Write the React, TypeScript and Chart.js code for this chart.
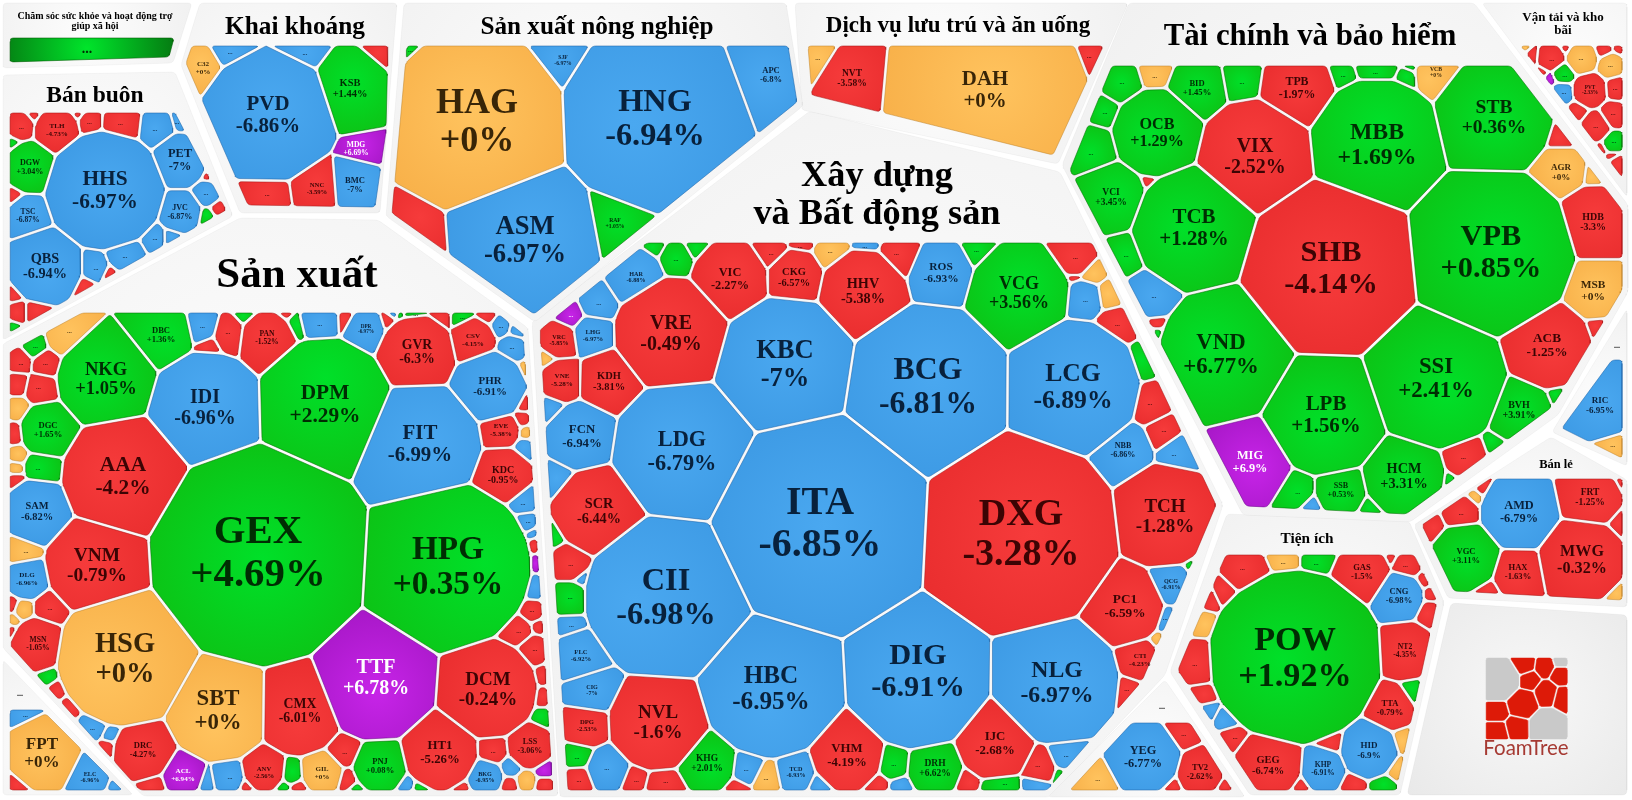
import React, { useEffect, useRef } from "react";
import { Chart, registerables } from "chart.js";
Chart.register(...registerables);

type P = [number, number];
type Site = number[];

// ---- values -------------------------------------------------------------
const healthNames: string[] = [];
const healthChanges: number[] = [];
const healthTones = "G";

const miningNames = ["PVD", "KSB", "C32", "MDG", "NNC", "BMC"];
const miningChanges = [-6.86, 1.44, 0, 6.69, -3.59, -7];
const miningTones = "bgoprb" + "bbrr";

const wholesaleNames = ["HHS", "PET", "TLH", "DGW", "TSC", "QBS", "JVC"];
const wholesaleChanges = [-6.97, -7, -4.73, 3.04, -6.87, -6.94, -6.87];
const wholesaleTones = "bbrgbbb" + "rrrrrbbgrbrgrbbbbrrrrrg";

const farmNames = ["HAG", "HNG", "ASM", "SJF", "APC", "RAF"];
const farmChanges = [0, -6.94, -6.97, -6.97, -6.8, 1.05];
const farmTones = "obbbbg" + "rg";

const lodgingNames = ["DAH", "NVT"];
const lodgingChanges = [0, -3.58];
const lodgingTones = "or" + "or";

const financeNames = ["SHB", "VPB", "MBB", "STB", "VIX", "TPB", "OCB", "TCB", "VND", "SSI", "LPB", "MIG", "HCM", "BVH", "ACB", "MSB", "HDB", "AGR", "VCB", "BID", "VCI", "SSB"];
const financeChanges = [-4.14, 0.85, 1.69, 0.36, -2.52, -1.97, 1.29, 1.28, 6.77, 2.41, 1.56, 6.9, 3.31, 3.91, -1.25, 0, -3.3, 0, 0, 1.45, 3.45, 0.53];
const financeTones = "rgggrrgggggpggrorooggg" + "orggggg" + "ogggr" + "gbrg" + "gbg" + "rggg" + "r";

const transportNames = ["PVT"];
const transportChanges = [-2.33];
const transportTones = "r" + "rooorrrrgbprrrrgrrrr";

const otherNames = ["RIC"];
const otherChanges = [-6.95];
const otherTones = "b" + "o";

const retailNames = ["AMD", "FRT", "MWG", "HAX", "VGC"];
const retailChanges = [-6.79, -1.25, -0.32, -1.63, 3.11];
const retailTones = "brrrg" + "rrorrror";

const utilityNames = ["POW", "GAS", "CNG", "NT2", "TTA", "HID", "KHP", "GEG"];
const utilityChanges = [1.92, -1.5, -6.98, -4.35, -0.79, -6.9, -6.91, -6.74];
const utilityTones = "grbrrbbr" + "rogrrrrrgoorrgrbrrrrobr";

const yegNames = ["YEG", "TV2"];
const yegChanges = [-6.77, -2.62];
const yegTones = "br" + "orrr";

const buildNames = ["ITA", "DXG", "BCG", "LCG", "KBC", "LDG", "CII", "HBC", "DIG", "NLG", "VRE", "TCH", "SCR", "FCN", "KDH", "VNE", "VRC", "LHG", "HAR", "VIC", "CKG", "HHV", "ROS", "VCG", "NBB", "QCG", "PC1", "CTI", "IJC", "DRH", "VHM", "TCD", "KHG", "NVL", "DPG", "CIG", "FLC"];
const buildChanges = [-6.85, -3.28, -6.81, -6.89, -7, -6.79, -6.98, -6.95, -6.91, -6.97, -0.49, -1.28, -6.44, -6.94, -3.81, -5.28, -5.85, -6.97, -6.88, -2.27, -6.57, -5.38, -6.93, 3.56, -6.86, -6.91, -6.59, -4.23, -2.68, 6.62, -4.19, -6.93, 2.01, -1.6, -2.53, -7, -6.92];
const buildTones = "brbbbbbbbbrrrbrrrbbrrrbgbbrrrgrbgrrbb" + "pborbrgrrggg" + "rroobrgrrbgbo" + "rrbgbgrgrbbobrrrbrgbgrbgbbo";

const makerNames = ["GEX", "HPG", "TTF", "HSG", "SBT", "CMX", "DCM", "HT1", "LSS", "BKG", "KDC", "EVE", "PHR", "CSV", "GVR", "FIT", "DPM", "IDI", "NKG", "AAA", "VNM", "DBC", "PAN", "DPR", "DGC", "SAM", "DLG", "MSN", "DRC", "ACL", "ANV", "GIL", "PNJ"];
const makerChanges = [4.69, 0.35, 6.78, 0, 0, -6.01, -0.24, -5.26, -3.06, -6.95, -0.95, -5.38, -6.91, -4.15, -6.3, -6.99, 2.29, -6.96, 1.05, -4.2, -0.79, 1.36, -1.52, -6.97, 1.65, -6.82, -6.96, -1.05, -4.27, 6.94, -2.56, 0, 0.08];
const makerTones = "ggpoorrrrbrrbrrbgbgrrgrbgbbrrprog" + "borrpgrrrrrrbprbbbborrobbbrgrgr" + "brgrbrgrrgb" + "ogrrrr" + "oroorg" + "ororor" + "grrbbr" + "rbbrgg" + "rrrggb" + "r";

const fptNames = ["FPT", "ELC"];
const fptChanges = [0, -6.96];
const fptTones = "ob" + "brb";

// ---- layout: anchor of each tile [x, y, radius, label size, label x, label y] on the data scale
const healthSites: Site[] = [[92, 50, 50]];
const miningSites: Site[] = [[268, 115, 65, 22], [350, 88, 36, 11], [203, 68, 17, 7.5], [362, 156, -15, 8, 356, 149], [317, 188, 17, 7], [355, 185, 19, 9], [233, 50, 18], [300, 50, 20], [383, 49, 6], [267, 195, 12]];
const wholesaleSites: Site[] = [[105, 190, 59, 22.5], [180, 160, 27, 13], [57, 130, 22, 7.5], [30, 167, 25, 8.5], [28, 216, 20, 8], [45, 266, 37, 15], [180, 212, 20, 8.5],
  [20, 126, 13], [33, 115, 3], [77, 115, 3], [89, 123, 10], [122, 125, 18], [157, 129, 17], [182, 122, 9], [12, 143, 3], [13, 197, 5], [207, 193, 11], [209, 175, 3], [207, 217, 4], [219, 209, 4], [154, 237, 9], [172, 237, 5], [125, 254, 16], [94, 267, 12], [85, 286, 4], [109, 274, 1], [13, 295, 3], [17, 312, 8], [35, 312, 8], [12, 328, 2]];
const farmSites: Site[] = [[480, 125, 80, 38, 477, 121], [655, 118, 88, 34], [525, 240, 70, 28], [563, 60, -26, 6], [771, 75, 27, 9], [615, 223, 15, 6], [413, 248, 7], [405, 45, -55]];
const lodgingSites: Site[] = [[985, 90, 100, 22], [852, 78, 30, 10], [801, 46, 32], [1093, 48, 10]];
const financeSites: Site[] = [[1331, 268, 87, 32], [1491, 252, 84, 32], [1377, 144, 65, 25], [1494, 117, 58, 20.5], [1255, 156, 56, 21], [1297, 88, 36, 12.5], [1157, 133, 44, 17], [1194, 228, 61, 22], [1224, 354, 65, 24, 1221, 354], [1436, 378, 70, 24], [1326, 415, 60, 22], [1250, 462, 40, 13], [1404, 476, 40, 15], [1519, 410, 32, 10.5], [1547, 345, 44, 14], [1593, 290, 29, 12], [1593, 222, 36, 10.5], [1561, 172, 24, 9.5], [1436, 72, 20, 6], [1197, 88, 28, 9], [1111, 197, 34, 10], [1341, 490, 24, 8.5],
  [1592, 176, 6], [1561, 138, 8], [1341, 73, 9], [1377, 62, 20], [1408, 75, 5], [1411, 67, 3], [1242, 80, 18], [1155, 72, 14], [1122, 82, 18], [1104, 112, 11], [1093, 150, 22], [1150, 182, 4], [1125, 255, 16], [1150, 295, 22], [1153, 325, 3], [1153, 333, 4], [1296, 490, 15], [1311, 505, 1], [1371, 507, 6], [1466, 458, 20], [1496, 447, 7], [1451, 482, 4], [1556, 394, 6], [1596, 327, 7]];
const transportSites: Site[] = [[1590, 90, 16, 5.5], [1551, 57, 13], [1582, 58, 15], [1611, 65, 12], [1525, 48, 3], [1604, 50, 7], [1619, 48, 4], [1617, 88, 10], [1614, 115, 12], [1563, 73, 9], [1562, 93, 9], [1549, 79, 3], [1596, 127, 14], [1531, 55, 5], [1565, 48, 3], [1577, 112, 6], [1613, 142, 10], [1617, 163, 6], [1542, 73, 1.5], [1603, 147, 2], [1613, 156, 2]];
const otherSites: Site[] = [[1600, 405, 35, 9.5], [1611, 442, 12]];
const retailSites: Site[] = [[1519, 512, 38, 13], [1590, 497, 30, 10], [1582, 560, 42, 17], [1518, 572, 24, 9], [1466, 556, 33, 9], [1461, 513, 16], [1432, 527, 7], [1476, 496, 3], [1481, 490, 1.5], [1621, 480, 1], [1619, 523, 3], [1618, 596, 4], [1487, 590, 3]];
const utilitySites: Site[] = [[1295, 657, 86, 36], [1362, 572, 27, 9], [1399, 596, 24, 9], [1405, 651, 27, 8], [1390, 708, 22, 9], [1369, 750, 28, 9.5], [1323, 769, 21, 8], [1268, 765, 33, 11],
  [1245, 570, 20], [1284, 553, 14], [1318, 553, 16], [1407, 565, 13], [1392, 557, 3], [1424, 580, 5], [1431, 594, 5], [1430, 611, 8], [1412, 693, 6], [1401, 740, 7], [1395, 768, 6], [1331, 744, 8], [1354, 784, 7], [1382, 785, 7], [1299, 786, 4], [1227, 721, 6], [1232, 738, 9], [1226, 590, 6], [1197, 663, 20], [1202, 696, 8], [1200, 621, 8], [1205, 710, 5], [1205, 600, 6]];
const yegSites: Site[] = [[1143, 757, 37, 13], [1200, 772, 23, 9], [1097, 782, 20], [1182, 730, 17], [1172, 786, 7], [1224, 786, 5]];
const buildSites: Site[] = [[820, 523, 106, 42], [1021, 533, 96, 40], [928, 386, 80, 33.5], [1073, 387, 66, 27], [785, 364, 67, 28], [682, 451, 69, 23.5], [666, 597, 81, 34], [771, 688, 69, 26.5], [918, 680, 68, 32, 918, 671], [1057, 682, 61, 25], [671, 333, 56, 21], [1165, 516, 50, 20], [599, 511, 44, 15], [582, 436, 33, 13.5], [609, 381, 30, 11], [562, 380, 20, 7.5], [559, 340, 17, 6.5], [593, 335, 19, 7], [636, 277, 28, 6.5], [730, 279, 38, 13], [794, 277, 27, 11], [863, 291, 42, 15], [941, 272, 31, 12], [1019, 293, 50, 19], [1123, 450, 25, 8.5], [1171, 584, 19, 6.5], [1125, 606, 38, 14], [1140, 660, 20, 7.5], [995, 743, 37, 13.5], [935, 768, 26, 10], [847, 755, 35, 13.5], [796, 772, 18, 6.5], [707, 763, 28, 10], [658, 722, 48, 20], [587, 725, 19, 7], [592, 690, 22, 6.5], [581, 655, 25, 7],
  [570, 315, 11], [598, 302, 17], [833, 252, 15], [900, 255, 20], [866, 246, 10], [1073, 255, 20], [977, 252, 13], [770, 252, 16], [800, 238, 10], [655, 249, 8], [675, 260, 16], [696, 248, 7],
  [768, 269, 2], [1073, 270, 5], [1091, 272, 6], [1108, 295, 5], [1083, 299, 16], [1115, 325, 11], [1140, 364, 5], [1150, 404, 15], [1164, 432, 11], [1178, 452, 13], [1195, 565, 1.5], [1168, 620, 10], [1160, 643, 5],
  [1130, 690, 10], [1040, 766, 15], [1065, 755, 14], [1060, 772, 1.5], [1036, 786, 8], [1000, 788, 17], [968, 781, 8], [893, 764, 13], [877, 785, 7], [900, 787, 5], [820, 783, 8], [767, 778, 12], [747, 768, 14], [737, 788, 5], [664, 788, 18], [635, 781, 11], [607, 770, 20], [581, 780, 12], [580, 758, 9], [572, 628, 9], [571, 599, 14], [571, 561, 17], [583, 576, 1], [557, 537, 1.5], [560, 479, 8], [552, 407, 5], [547, 358, 3]];
const makerSites: Site[] = [[258, 555, 107, 43, 258, 552], [448, 566, 83, 35], [376, 681, 59, 21, 376, 677], [125, 658, 68, 30], [218, 710, 50, 24], [300, 711, 42, 14.5], [488, 689, 49, 20], [440, 752, 37, 13.5], [530, 746, 22, 8.5], [485, 777, 17, 6.5], [503, 475, 27, 10.5], [501, 430, 18, 7.5], [490, 386, 35, 11.5], [473, 340, 22, 7.5], [417, 352, 37, 14.5], [420, 444, 60, 22], [325, 404, 65, 22.5], [205, 407, 54, 21], [106, 379, 48, 19.5], [123, 476, 60, 22.5], [97, 565, 50, 20.5], [161, 335, 30, 9], [267, 338, 26, 8], [366, 329, 18, 5.5], [48, 430, 27, 9], [37, 511, 32, 11], [27, 579, 19, 7.5], [38, 644, 26, 8], [143, 750, 29, 9], [183, 775, 19, 7.5], [264, 772, 19, 7], [322, 773, 19, 7.5], [380, 766, 26, 9],
  [511, 767, 8], [526, 781, 8], [510, 785, 6], [545, 785, 7], [545, 770, 7], [543, 717, 6], [543, 697, 7], [543, 676, 6], [533, 650, 14], [517, 631, 14], [538, 626, 4], [532, 612, 9], [534, 588, 8], [536, 561, 3], [534, 546, 5], [530, 532, 5], [526, 524, 9], [523, 500, 12], [525, 448, 7], [526, 432, 4], [522, 419, 6], [523, 404, 6], [523, 370, 5], [512, 349, 13], [500, 326, 9], [517, 330, 6], [487, 317, 7], [462, 318, 9], [441, 318, 7], [413, 316, 10], [493, 750, 13],
  [320, 318, 18], [344, 317, 5], [294, 324, 6], [229, 333, 14], [202, 326, 14], [209, 344, 3], [247, 316, 5], [285, 315, 3], [388, 322, 6], [403, 317, 5], [393, 315, 1], [66, 336, 18], [34, 346, 10], [19, 360, 10], [46, 363, 11], [17, 384, 7], [41, 389, 13], [17, 409, 7], [14, 434, 7], [17, 455, 5], [15, 469, 4], [15, 480, 5], [42, 468, 16], [22, 551, 12], [50, 609, 14], [23, 610, 7], [12, 606, 3], [13, 620, 3], [11, 631, 2], [49, 677, 4], [57, 689, 5], [70, 706, 3], [93, 726, 10], [112, 735, 4], [109, 747, 2], [153, 785, 8], [207, 783, 5], [228, 779, 14], [247, 787, 4], [292, 775, 7], [283, 788, 3], [298, 788, 4], [345, 751, 13], [348, 780, 6], [356, 789, 2], [420, 788, 5], [407, 785, 5], [462, 788, 3]];
const fptSites: Site[] = [[42, 753, 35, 18], [90, 777, 18, 6.5], [21, 710, 12], [15, 785, 6], [116, 787, 3]];
const logoSites: Site[] = [[1497, 678, 24], [1521, 663, 14], [1544, 666, 9], [1561, 661, 6], [1527, 680, 11], [1561, 675, 8], [1546, 694, 11], [1522, 703, 15], [1562, 698, 9], [1497, 710, 11], [1517, 726, 10], [1497, 731, 9], [1547, 726, 17]];
const logoTones = "xRRxRRRRRRRRx";

// ---- panels ------------------------------------------------------------
type Group = { title: string[]; fs: number; tx: number; ty: number; panel: P[]; content: P[]; names: string[]; changes: number[]; tones: string; sites: Site[] };
const groups: Group[] = [
  { title: ["Chăm sóc sức khỏe và hoạt động trợ", "giúp xã hội"], fs: 10, tx: 95, ty: 16, panel: [[3, 3], [192, 3], [173, 63], [3, 68]], content: [[10, 38], [174, 38], [169, 57], [10, 62]], names: healthNames, changes: healthChanges, tones: healthTones, sites: healthSites },
  { title: ["Khai khoáng"], fs: 25.3, tx: 295, ty: 26, panel: [[200, 3], [397, 3], [380, 213], [240, 213], [181, 65]], content: [[192, 46], [388, 46], [386, 130], [375, 207], [248, 205], [186, 63]], names: miningNames, changes: miningChanges, tones: miningTones, sites: miningSites },
  { title: ["Bán buôn"], fs: 23.5, tx: 95, ty: 95, panel: [[3, 75], [175, 72], [233, 216], [3, 340]], content: [[10, 113], [175, 113], [226, 210], [10, 332]], names: wholesaleNames, changes: wholesaleChanges, tones: wholesaleTones, sites: wholesaleSites },
  { title: ["Sản xuất nông nghiệp"], fs: 25.2, tx: 597, ty: 26, panel: [[404, 3], [786, 3], [803, 106], [535, 322], [386, 216]], content: [[407, 46], [788, 46], [797, 102], [534, 314], [392, 213]], names: farmNames, changes: farmChanges, tones: farmTones, sites: farmSites },
  { title: ["Dịch vụ lưu trú và ăn uống"], fs: 23, tx: 958, ty: 25, panel: [[795, 3], [1128, 3], [1058, 164], [802, 110]], content: [[808, 46], [1103, 46], [1053, 155], [812, 95]], names: lodgingNames, changes: lodgingChanges, tones: lodgingTones, sites: lodgingSites },
  { title: ["Tài chính và bảo hiểm"], fs: 30.8, tx: 1310, ty: 35.5, panel: [[1129, 3], [1474, 3], [1628, 205], [1628, 292], [1558, 415], [1410, 522], [1243, 515], [1062, 165]], content: [[1112, 66], [1511, 66], [1622, 210], [1622, 290], [1552, 407], [1406, 514], [1246, 506], [1070, 170]], names: financeNames, changes: financeChanges, tones: financeTones, sites: financeSites },
  { title: ["Vận tải và kho", "bãi"], fs: 13, tx: 1563, ty: 17, panel: [[1482, 3], [1627, 3], [1627, 197]], content: [[1521, 46], [1622, 46], [1622, 177]], names: transportNames, changes: transportChanges, tones: transportTones, sites: transportSites },
  { title: ["..."], fs: 8, tx: 1617, ty: 346, panel: [[1627, 309], [1627, 466], [1552, 432]], content: [[1612, 360], [1622, 360], [1622, 458], [1562, 428]], names: otherNames, changes: otherChanges, tones: otherTones, sites: otherSites },
  { title: ["Bán lẻ"], fs: 12.5, tx: 1556, ty: 464, panel: [[1551, 437], [1627, 480], [1627, 607], [1448, 598], [1414, 525]], content: [[1490, 479], [1622, 479], [1622, 600], [1454, 591], [1422, 525]], names: retailNames, changes: retailChanges, tones: retailTones, sites: retailSites },
  { title: ["Tiện ích"], fs: 15.3, tx: 1307, ty: 538, panel: [[1227, 514], [1409, 521], [1444, 602], [1400, 795], [1250, 795], [1170, 672]], content: [[1226, 555], [1414, 555], [1437, 601], [1396, 790], [1257, 790], [1178, 670]], names: utilityNames, changes: utilityChanges, tones: utilityTones, sites: utilitySites },
  { title: ["..."], fs: 8, tx: 1162, ty: 707, panel: [[1165, 680], [1245, 797], [1048, 797]], content: [[1132, 723], [1190, 723], [1232, 790], [1070, 790]], names: yegNames, changes: yegChanges, tones: yegTones, sites: yegSites },
  { title: ["Xây dựng", "và Bất động sản"], fs: 36.3, tx: 877, ty: 175, panel: [[810, 111], [1060, 172], [1223, 505], [1165, 675], [1050, 797], [560, 797], [532, 322]], content: [[647, 243], [1092, 243], [1216, 505], [1142, 681], [1047, 790], [568, 790], [540, 330]], names: buildNames, changes: buildChanges, tones: buildTones, sites: buildSites },
  { title: ["Sản xuất"], fs: 43, tx: 297, ty: 274, panel: [[240, 218], [378, 220], [528, 328], [558, 796], [143, 796], [3, 648], [3, 344]], content: [[82, 313], [497, 313], [523, 334], [553, 790], [140, 790], [10, 645], [10, 352]], names: makerNames, changes: makerChanges, tones: makerTones, sites: makerSites },
  { title: ["..."], fs: 8, tx: 20, ty: 694, panel: [[3, 660], [133, 795], [3, 795]], content: [[10, 710], [42, 710], [122, 790], [10, 790]], names: fptNames, changes: fptChanges, tones: fptTones, sites: fptSites },
];
const logoPanel: P[] = [[1451, 603], [1627, 615], [1627, 795], [1407, 795]];
const logoBox: P[] = [[1486, 658], [1567, 658], [1567, 739], [1486, 739]];

const palette: Record<string, { c: string; e: string; s: string; t: string }> = {
  b: { c: "#4aa8f0", e: "#3e9be5", s: "rgba(30,100,170,.55)", t: "rgba(3,22,45,.92)" },
  g: { c: "#00e029", e: "#0cc416", s: "rgba(0,110,0,.55)", t: "rgba(0,30,0,.92)" },
  G: { c: "#00e52b", e: "#057c12", s: "rgba(0,90,0,.55)", t: "rgba(0,30,0,.92)" },
  r: { c: "#f63b3b", e: "#ea2e2f", s: "rgba(170,20,20,.55)", t: "rgba(45,0,0,.92)" },
  o: { c: "#ffc35e", e: "#f8b14a", s: "rgba(190,130,40,.5)", t: "rgba(45,28,3,.95)" },
  p: { c: "#c724e8", e: "#a818c8", s: "rgba(110,10,140,.55)", t: "#ffffff" },
  x: { c: "#c9c9c9", e: "#c9c9c9", s: "#c9c9c9", t: "#000" },
  R: { c: "#dd1a08", e: "#dd1a08", s: "#dd1a08", t: "#000" },
};

const clipHalf = (poly: P[], a: number, b: number, c: number): P[] => {
  const out: P[] = [];
  for (let i = 0; i < poly.length; i++) {
    const p = poly[i], q = poly[(i + 1) % poly.length];
    const dp = a * p[0] + b * p[1] - c, dq = a * q[0] + b * q[1] - c;
    if (dp <= 0) out.push(p);
    if ((dp < 0 && dq > 0) || (dp > 0 && dq < 0)) {
      const t = dp / (dp - dq);
      out.push([p[0] + (q[0] - p[0]) * t, p[1] + (q[1] - p[1]) * t]);
    }
  }
  return out;
};
const powerCell = (sites: Site[], i: number, box: P[], gap: number): P[] => {
  let poly = box;
  const [xi, yi, ri] = sites[i];
  const wi = ri * Math.abs(ri);
  for (let j = 0; j < sites.length && poly.length; j++) {
    if (j === i) continue;
    const [xj, yj, rj] = sites[j];
    const wj = rj * Math.abs(rj);
    const dx = xj - xi, dy = yj - yi, len = Math.hypot(dx, dy) || 1;
    const c = (xj * xj + yj * yj - wj - xi * xi - yi * yi + wi) / (2 * len) - gap;
    poly = clipHalf(poly, dx / len, dy / len, c);
  }
  return poly;
};
const rounded = (poly: P[], rad: number): P[] => {
  const out: P[] = [];
  const n = poly.length;
  for (let i = 0; i < n; i++) {
    const a = poly[(i + n - 1) % n], b = poly[i], c = poly[(i + 1) % n];
    const la = Math.hypot(a[0] - b[0], a[1] - b[1]), lc = Math.hypot(c[0] - b[0], c[1] - b[1]);
    if (la < 1e-6 || lc < 1e-6) continue;
    const ta = Math.min(rad, la * 0.45) / la, tc = Math.min(rad, lc * 0.45) / lc;
    const s: P = [b[0] + (a[0] - b[0]) * ta, b[1] + (a[1] - b[1]) * ta];
    const e: P = [b[0] + (c[0] - b[0]) * tc, b[1] + (c[1] - b[1]) * tc];
    for (let k = 0; k <= 4; k++) {
      const t = k / 4, u = 1 - t;
      out.push([u * u * s[0] + 2 * u * t * b[0] + t * t * e[0], u * u * s[1] + 2 * u * t * b[1] + t * t * e[1]]);
    }
  }
  if (out.length) out.push(out[0]);
  return out;
};
const shapeDataset = (poly: P[], inner: string, outer: string, stroke: string, width: number, order: number) => {
  const cx = poly.reduce((t, p) => t + p[0], 0) / poly.length;
  const cy = poly.reduce((t, p) => t + p[1], 0) / poly.length;
  const rad = Math.max(...poly.map((p) => Math.hypot(p[0] - cx, p[1] - cy)), 1);
  return {
    data: poly.map((p) => ({ x: p[0], y: p[1] })),
    showLine: true, pointRadius: 0, borderWidth: width, borderColor: stroke, borderJoinStyle: "round", tension: 0, fill: "shape", order, clip: false,
    backgroundColor: (ctx: any) => {
      const { x, y } = ctx.chart.scales;
      const px = x ? x.getPixelForValue(cx) : NaN, py = y ? y.getPixelForValue(cy) : NaN;
      if (!Number.isFinite(px) || !Number.isFinite(py)) return outer;
      const g = ctx.chart.ctx.createRadialGradient(px, py, 0, px, py, rad);
      g.addColorStop(0, inner); g.addColorStop(1, outer);
      return g;
    },
  };
};
const fmt = (v: number) => (v >= 0 ? "+" : "") + String(v) + "%";
const SERIF = '"Liberation Serif", serif';

export default function App() {
  const ref = useRef<HTMLCanvasElement>(null);
  useEffect(() => {
    document.body.style.margin = "0";
    document.body.style.background = "#fff";
    const datasets: any[] = [];
    const labels: { x: number; y: number; text: string; fs: number; color: string }[] = [];
    for (const g of groups) {
      datasets.push(shapeDataset(rounded(g.panel, 4), "#fdfdfd", "#f1f1f1", "rgba(0,0,0,.03)", 1, 3));
      g.title.forEach((line, k) => labels.push({ x: g.tx, y: g.ty + k * g.fs * (g.title.length > 1 ? 1.03 : 1), text: line, fs: g.fs, color: "#000" }));
      g.sites.forEach((s, i) => {
        const tone = palette[g.tones[i]] || palette.r;
        const poly = rounded(powerCell(g.sites, i, g.content, 1.6), 3.5);
        if (poly.length < 3) return;
        datasets.push(shapeDataset(poly, tone.c, tone.e, tone.s, 1, 1));
        if (i < g.names.length) {
          const lx = s[4] ?? s[0], ly = s[5] ?? s[1];
          labels.push({ x: lx, y: ly - s[3] / 2, text: g.names[i], fs: s[3] * 0.95, color: tone.t });
          labels.push({ x: lx, y: ly + s[3] / 2, text: fmt(g.changes[i]), fs: s[3] * 0.95, color: tone.t });
        } else if (Math.abs(s[2]) >= 9 || g.sites.length === 1) {
          const cx = poly.reduce((t, p) => t + p[0], 0) / poly.length;
          const cy = poly.reduce((t, p) => t + p[1], 0) / poly.length;
          labels.push({ x: cx, y: cy, text: "...", fs: g.sites.length === 1 ? 14 : 6.5, color: tone.t });
        }
      });
    }
    datasets.push(shapeDataset(rounded(logoPanel, 5), "#f8f8f8", "#e9e9e9", "rgba(0,0,0,.03)", 1, 3));
    logoSites.forEach((_, i) => {
      const poly = rounded(powerCell(logoSites, i, logoBox, 1), 2);
      if (poly.length < 3) return;
      const tone = palette[logoTones[i]];
      datasets.push(shapeDataset(poly, tone.c, tone.e, tone.s, 0.5, 1));
    });
    const textPlugin = {
      id: "tileText",
      afterDatasetsDraw(chart: any) {
        const { ctx, scales } = chart;
        ctx.save();
        ctx.textAlign = "center";
        ctx.textBaseline = "middle";
        for (const l of labels) {
          ctx.font = `bold ${l.fs}px ${SERIF}`;
          ctx.fillStyle = l.color;
          ctx.fillText(l.text, scales.x.getPixelForValue(l.x), scales.y.getPixelForValue(l.y + 0.05 * l.fs));
        }
        ctx.font = "20.5px Lato, sans-serif";
        ctx.fillStyle = "#a63a33";
        ctx.fillText("FoamTree", scales.x.getPixelForValue(1526), scales.y.getPixelForValue(748));
        ctx.restore();
      },
    };
    const chart = new Chart(ref.current as HTMLCanvasElement, {
      type: "scatter",
      data: { datasets },
      plugins: [textPlugin],
      options: {
        animation: false, responsive: false, devicePixelRatio: 1, events: [],
        layout: { padding: 0 },
        plugins: { legend: { display: false }, tooltip: { enabled: false } },
        scales: { x: { type: "linear", display: false, min: 0, max: 1632 }, y: { type: "linear", display: false, reverse: true, min: 0, max: 800 } },
      },
    } as any);
    return () => chart.destroy();
  }, []);
  return <canvas ref={ref} width={1632} height={800} style={{ display: "block", position: "absolute", left: 0, top: 0 }} />;
}
